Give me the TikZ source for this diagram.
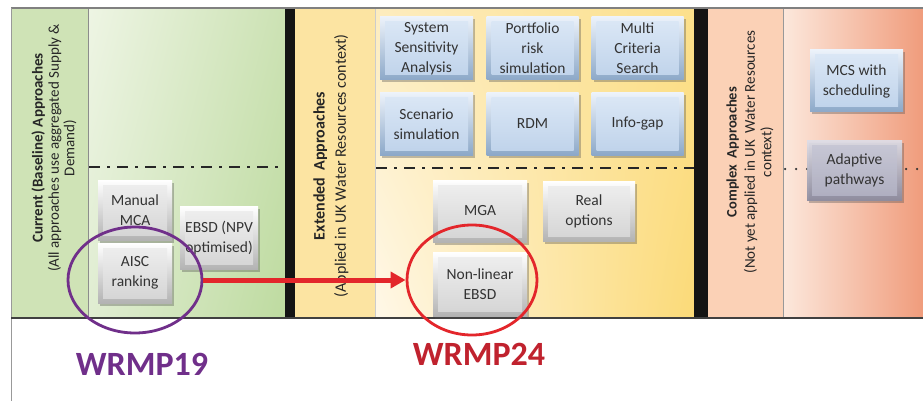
\documentclass[tikz,border=0pt]{standalone}
\usepackage{fontspec}
\setmainfont{Carlito}
\usetikzlibrary{shadows,shadings,arrows.meta,shapes.geometric}
\definecolor{gstrip}{HTML}{CFE3B6}
\definecolor{ystrip}{HTML}{FCE4A2}
\definecolor{ostrip}{HTML}{FBD1B6}
\definecolor{boxtext}{HTML}{333333}
\definecolor{labtext}{HTML}{262626}
\definecolor{wpurple}{HTML}{702F8A}
\definecolor{wred}{HTML}{C0222E}
\definecolor{ered}{HTML}{E3262B}
\definecolor{gUL}{RGB}{238,245,228}
\definecolor{gLL}{RGB}{224,237,210}
\definecolor{gUR}{RGB}{204,226,180}
\definecolor{gLR}{RGB}{190,219,160}
\definecolor{yUL}{RGB}{253,236,190}
\definecolor{yLL}{RGB}{255,248,232}
\definecolor{yUR}{RGB}{252,224,140}
\definecolor{yLR}{RGB}{251,218,120}
\definecolor{oL}{RGB}{252,232,220}
\definecolor{oR}{RGB}{240,156,124}
\definecolor{bTop}{RGB}{236,242,250}
\definecolor{bBot}{RGB}{140,168,200}
\definecolor{bInTop}{RGB}{220,232,246}
\definecolor{bInBot}{RGB}{190,210,234}
\definecolor{lTop}{RGB}{222,222,232}
\definecolor{lBot}{RGB}{140,140,160}
\definecolor{lInTop}{RGB}{200,200,214}
\definecolor{lInBot}{RGB}{176,176,194}
\tikzset{
  basebox/.style={rectangle, inner sep=2pt, align=center,
    font=\fontsize{15.5}{20}\selectfont, text=boxtext,
    drop shadow={shadow xshift=2pt, shadow yshift=-2.5pt, opacity=0.35, fill=black!70}},
  graybox/.style={basebox, top color=white, bottom color=black!30,
    path picture={\shade[top color=black!6, bottom color=black!17]
      ([xshift=5pt,yshift=-5pt]path picture bounding box.north west) rectangle
      ([xshift=-5pt,yshift=5pt]path picture bounding box.south east);}},
  bluebox/.style={basebox, top color=bTop, bottom color=bBot,
    path picture={\shade[top color=bInTop, bottom color=bInBot]
      ([xshift=5pt,yshift=-5pt]path picture bounding box.north west) rectangle
      ([xshift=-5pt,yshift=5pt]path picture bounding box.south east);}},
  lavbox/.style={basebox, top color=lTop, bottom color=lBot,
    fill opacity=0.93, text opacity=1,
    path picture={\shade[top color=lInTop, bottom color=lInBot]
      ([xshift=5pt,yshift=-5pt]path picture bounding box.north west) rectangle
      ([xshift=-5pt,yshift=5pt]path picture bounding box.south east);}},
  sidelabel/.style={rotate=90, align=center, text=labtext, inner sep=0pt},
  dashdot/.style={line width=2pt, black!85, dash pattern=on 11pt off 7pt on 3pt off 7pt},
  ring/.style={ellipse, draw, line width=2.8pt, inner sep=0pt},
  wlabel/.style={font=\fontsize{34}{40}\selectfont\bfseries}
}
\begin{document}
\begin{tikzpicture}[x=1pt,y=-1pt]
\useasboundingbox (0,0) rectangle (923,401);
\fill[white] (0,0) rectangle (923,401);
% panels
\fill[gstrip] (11,8) rectangle (88,318);
\shade[upper left=gUL, lower left=gLL, upper right=gUR, lower right=gLR] (88,8) rectangle (285,318);
\fill[ystrip] (295,8) rectangle (375,318);
\shade[upper left=yUL, lower left=yLL, upper right=yUR, lower right=yLR] (375,8) rectangle (694,318);
\fill[ostrip] (708,8) rectangle (783,318);
\shade[left color=oL, right color=oR] (783,8) rectangle (923,318);
\fill[black!92] (285,8) rectangle (295,318);
\fill[black!92] (694,8) rectangle (708,318);
\draw[black!45, line width=0.8pt] (88,8) -- (88,318);
\draw[black!20, line width=0.8pt] (375,8) -- (375,318);
\draw[black!40, line width=0.8pt] (783,8) -- (783,318);
\draw[black!50, line width=1.5pt] (11,8) -- (923,8);
\draw[black!40, line width=1pt] (11,8) -- (11,401);
\draw[black!75, line width=1.5pt] (11,318) -- (923,318);
% separators
\draw[dashdot] (89,167) -- (285,167);
\draw[dashdot] (376,168) -- (694,168);
\draw[black!80, line width=2.5pt, line cap=round, dash pattern=on 0pt off 11pt] (785,169) -- (923,169);
% side labels
\node[sidelabel] (lg) at (54,148) {{\fontsize{15}{19}\selectfont\bfseries Current (Baseline) Approaches}\\[2pt]
  {\fontsize{15}{19.5}\selectfont (All approaches use aggregated Supply \&}\\[1pt]
  {\fontsize{15}{19.5}\selectfont Demand)}};
\node[sidelabel] (ly) at (331,166) {{\fontsize{16}{20}\selectfont\bfseries Extended\ \ Approaches}\\[6pt]
  {\fontsize{16}{20}\selectfont (Applied in UK Water Resources context)}};
\node[sidelabel] (lo) at (750,152) {{\fontsize{14.5}{19}\selectfont\bfseries Complex\ \ Approaches}\\[4pt]
  {\fontsize{15}{20}\selectfont (Not yet applied in UK\ \ Water Resources}\\[2pt]
  {\fontsize{15}{20}\selectfont context)}};
% green boxes
\node[graybox, minimum width=74pt, minimum height=60pt] (mca) at (135,210) {Manual\\MCA};
\node[graybox, minimum width=74pt, minimum height=60pt] (aisc) at (135,273) {AISC\\ranking};
\node[graybox, minimum width=78pt, minimum height=63pt] (ebsd) at (219,238) {EBSD (NPV\\optimised)};
% yellow blue boxes
\node[bluebox, minimum width=93pt, minimum height=63pt] (ssa) at (426.5,48.5) {System\\Sensitivity\\Analysis};
\node[bluebox, minimum width=92pt, minimum height=63pt] (prs) at (532.5,48.5) {Portfolio\\risk\\simulation};
\node[bluebox, minimum width=92pt, minimum height=63pt] (mcs) at (637.5,48.5) {Multi\\Criteria\\Search};
\node[bluebox, minimum width=93pt, minimum height=62pt] (scen) at (426.5,124) {Scenario\\simulation};
\node[bluebox, minimum width=92pt, minimum height=62pt] (rdm) at (532.5,124) {RDM};
\node[bluebox, minimum width=92pt, minimum height=62pt] (info) at (637.5,124) {Info-gap};
% yellow gray boxes
\node[graybox, minimum width=94pt, minimum height=62pt] (mga) at (480,211) {MGA};
\node[graybox, minimum width=92pt, minimum height=60pt] (real) at (589,211) {Real\\options};
\node[graybox, minimum width=94pt, minimum height=64pt] (nle) at (480,284.5) {Non-linear\\EBSD};
% orange boxes
\node[bluebox, minimum width=93pt, minimum height=62pt] (msched) at (856.5,81) {MCS with\\scheduling};
\node[lavbox, minimum width=95pt, minimum height=60pt] (adapt) at (854.5,170) {Adaptive\\pathways};
% rings and arrow
\node[ring, draw=wpurple, minimum width=134pt, minimum height=106pt] (e19) at (135,280) {};
\node[ring, draw=ered, minimum width=130pt, minimum height=110pt] (e24) at (472,280) {};
\draw[ered, line width=5pt, -{Triangle[length=15pt,width=16pt]}] (e19.east) -- (e24.west);
% labels
\node[wlabel, text=wpurple] (w19) at (142,364) {WRMP19};
\node[wlabel, text=wred] (w24) at (479,354) {WRMP24};
\end{tikzpicture}
\end{document}
